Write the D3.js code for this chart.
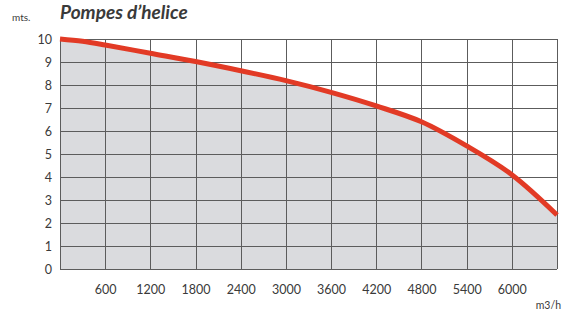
<!DOCTYPE html>
<html>
<head>
<meta charset="utf-8">
<script src="https://cdn.jsdelivr.net/npm/d3@7"></script>
<style>
  body { margin: 0; background: #fff; }
  svg text { font-family: Lato, "Open Sans", sans-serif; fill: #3a3a3a; }
</style>
</head>
<body>
<div id="chart"></div>
<script>
// flow (m3/h) vs head (mts.)
var flows = [0, 300, 600, 1200, 1800, 2400, 3000, 3600, 4200, 4800, 5400, 6000, 6600];
var heads = [10, 9.9, 9.74, 9.38, 9.02, 8.62, 8.19, 7.68, 7.09, 6.4, 5.35, 4.1, 2.35];
var xTicks = [600, 1200, 1800, 2400, 3000, 3600, 4200, 4800, 5400, 6000];
var yTicks = [0, 1, 2, 3, 4, 5, 6, 7, 8, 9, 10];

var width = 570, height = 311;
var margin = {top: 39, right: 13, bottom: 42, left: 60};
var plotW = width - margin.left - margin.right;
var plotH = height - margin.top - margin.bottom;

var svg = d3.select("#chart").append("svg")
    .attr("width", width)
    .attr("height", height);

var x = d3.scaleLinear().domain([0, 6600]).range([0, plotW]);
var y = d3.scaleLinear().domain([0, 10]).range([plotH, 0]);

var g = svg.append("g")
    .attr("transform", "translate(" + margin.left + "," + margin.top + ")");

var pts = flows.map(function(f, i){ return {x: f, y: heads[i]}; });

//gray area under the curve
var area = d3.area()
    .x(function(d){ return x(d.x); })
    .y0(plotH)
    .y1(function(d){ return y(d.y); })
    .curve(d3.curveCatmullRom);

g.append("path")
    .datum(pts)
    .attr("d", area)
    .attr("fill", "#dadbde");

//grid
g.selectAll(".hgrid")
    .data(yTicks)
    .enter().append("line")
    .attr("class", "hgrid")
    .attr("x1", 0).attr("x2", plotW)
    .attr("y1", function(d){ return Math.round(y(d)) + 0.5; })
    .attr("y2", function(d){ return Math.round(y(d)) + 0.5; })
    .attr("stroke", "#5c5c5c").attr("stroke-width", 1);

g.selectAll(".vgrid")
    .data([0].concat(xTicks).concat([6600]))
    .enter().append("line")
    .attr("class", "vgrid")
    .attr("y1", 0).attr("y2", plotH)
    .attr("x1", function(d){ return Math.round(x(d)) + 0.5; })
    .attr("x2", function(d){ return Math.round(x(d)) + 0.5; })
    .attr("stroke", "#5c5c5c").attr("stroke-width", 1);

//red curve
var line = d3.line()
    .x(function(d){ return x(d.x); })
    .y(function(d){ return y(d.y); })
    .curve(d3.curveCatmullRom);

g.append("path")
    .datum(pts)
    .attr("d", line)
    .attr("fill", "none")
    .attr("stroke", "#e23a25")
    .attr("stroke-width", 5);

//axis labels
var xAxis = d3.axisBottom(x).tickValues(xTicks).tickFormat(d3.format("d"))
    .tickSize(0).tickPadding(16);
var gx = g.append("g").attr("transform", "translate(0," + plotH + ")").call(xAxis);
gx.select(".domain").remove();
gx.selectAll("text").attr("font-size", 12.5).attr("fill", "#3a3a3a")
    .style("font-family", "Lato, sans-serif");

var yAxis = d3.axisLeft(y).tickValues(yTicks).tickFormat(d3.format("d"))
    .tickSize(0).tickPadding(8);
var gy = g.append("g").call(yAxis);
gy.select(".domain").remove();
gy.selectAll("text").attr("font-size", 12.5).attr("fill", "#3a3a3a")
    .style("font-family", "Lato, sans-serif");

svg.append("text")
    .attr("x", 60).attr("y", 19)
    .attr("font-size", 19)
    .attr("font-weight", "bold")
    .attr("font-style", "italic")
    .text("Pompes d\u2019helice");

svg.append("text")
    .attr("x", 12).attr("y", 21)
    .attr("font-size", 10)
    .text("mts.");

svg.append("text")
    .attr("x", 561).attr("y", 309)
    .attr("text-anchor", "end")
    .attr("font-size", 10.5)
    .attr("fill", "#555")
    .text("m3/h");
</script>
</body>
</html>
